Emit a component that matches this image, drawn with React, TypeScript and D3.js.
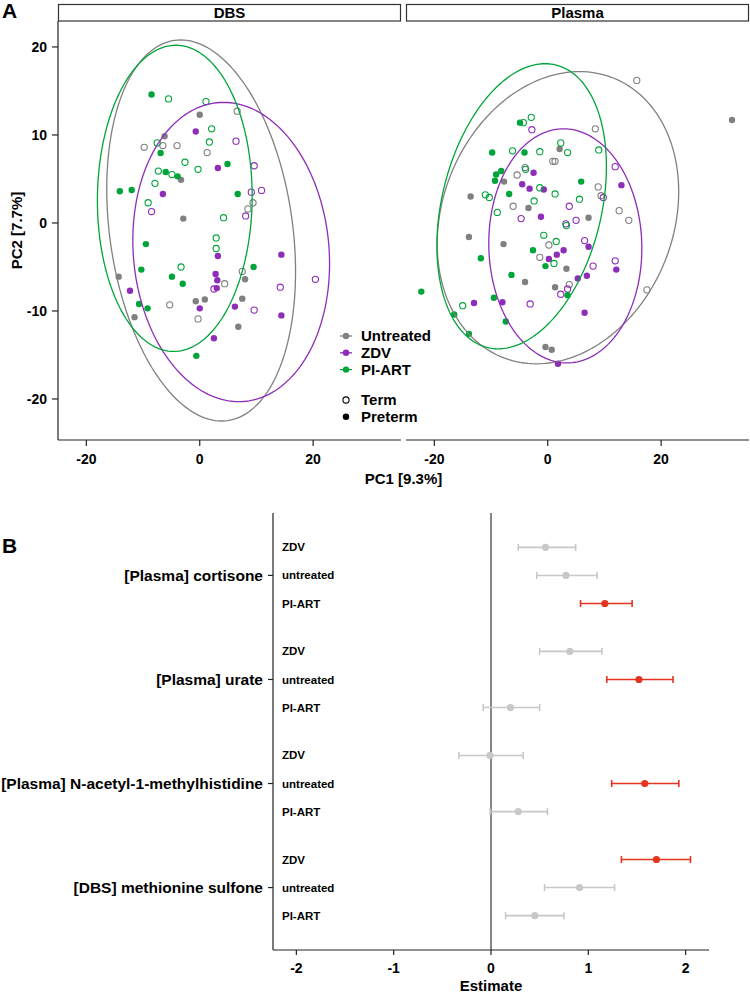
import React from "react";
import * as d3 from "d3";

// ---------- Panel A data (PC1, PC2) ----------
const groups = ["Untreated", "ZDV", "PI-ART"];
const groupColors = ["#808080", "#8e2db8", "#00a53a"];
const panels = ["DBS", "Plasma"];

const dbsUntreatedTerm = [[6.6,12.7],[-9.8,8.6],[-6.5,8.8],[-4.0,8.8],[1.3,8.0],[9.4,2.3],[8.5,1.6],[7.5,-5.5],[4.4,-6.9],[-5.3,-9.3],[-0.3,-10.9]];
const dbsUntreatedPreterm = [[0.0,12.3],[-6.2,9.85],[-3.3,4.9],[-2.9,0.5],[-14.3,-6.1],[8.0,-6.4],[-0.7,-8.9],[0.9,-8.7],[7.5,-8.6],[-11.5,-10.7],[6.8,-11.8]];
const dbsZdvTerm = [[6.4,9.3],[9.6,6.5],[10.9,3.7],[9.1,3.5],[-8.5,1.3],[8.1,0.8],[20.4,-6.4],[14.2,-7.3],[2.5,-7.5],[9.6,-9.9]];
const dbsZdvPreterm = [[-0.7,10.4],[3.2,6.25],[-6.5,3.3],[3.2,-3.75],[14.4,-3.6],[2.8,-5.8],[3.1,-6.5],[3.0,-7.4],[-12.3,-7.7],[0.0,-9.7],[6.2,-9.5],[14.4,-10.5],[2.5,-13.1]];
const dbsPiartTerm = [[-5.5,14.1],[1.1,13.8],[2.1,10.7],[1.7,9.2],[-7.5,9.1],[-2.6,6.9],[-0.3,6.1],[-7.3,5.9],[-4.9,5.5],[-7.9,4.5],[-9.1,2.3],[4.2,0.6],[2.9,-1.7],[2.9,-2.9],[-3.3,-5.0]];
const dbsPiartPreterm = [[-8.5,14.6],[-6.9,7.95],[-6.0,5.8],[-3.9,5.3],[-14.1,3.6],[-12.0,3.75],[4.9,6.7],[6.7,3.3],[-9.5,-2.4],[-10.3,-5.3],[-4.9,-6.1],[-3.0,-6.9],[9.5,-5.0],[-10.7,-9.2],[-9.2,-9.7],[-0.6,-15.1]];

const plasmaUntreatedTerm = [[15.7,16.2],[8.4,10.7],[1.3,7.0],[0.9,7.0],[-5.4,5.45],[-4.0,6.3],[8.9,4.1],[9.4,3.1],[-6.1,1.9],[12.6,1.4],[14.3,0.3],[0.2,-2.5],[-1.4,-3.9],[3.8,-7.0],[17.5,-7.6]];
const plasmaUntreatedPreterm = [[32.5,11.7],[2.1,8.4],[-7.7,4.7],[-13.6,3.0],[-3.4,1.7],[7.2,0.6],[-13.9,-1.6],[-7.8,-2.4],[3.3,-5.2],[-4.0,-6.7],[1.3,-7.3],[-0.4,-14.1],[0.7,-14.4]];
const plasmaZdvTerm = [[-2.8,10.6],[11.9,6.4],[9.8,2.9],[3.8,1.9],[-4.7,0.5],[5.0,0.3],[3.2,-0.1],[6.5,-2.0],[8.0,-4.9],[11.9,-4.3],[3.5,-7.5],[2.3,-8.1],[-3.1,-9.2]];
const plasmaZdvPreterm = [[-2.5,5.7],[-4.5,4.4],[-3.2,3.9],[-0.7,3.8],[13.0,4.3],[-1.2,0.7],[7.2,-2.7],[2.8,-3.1],[1.6,-3.6],[0.2,-4.1],[12.1,-5.3],[6.9,-6.0],[5.3,-6.3],[-13.0,-9.1],[-8.0,-9.0],[6.5,-10.2],[1.8,-16.0]];
const plasmaPiartTerm = [[-4.3,11.4],[-2.9,12.0],[2.3,9.1],[-6.2,8.2],[-1.4,8.1],[3.5,8.0],[9.0,8.3],[-3.9,6.1],[-1.4,4.0],[1.3,3.3],[-11.0,3.2],[-10.3,2.9],[5.6,2.7],[-2.4,2.5],[-8.9,1.2],[-0.7,-1.4],[1.5,-2.1],[1.1,-4.6],[3.3,-0.3],[-15.0,-9.4]];
const plasmaPiartPreterm = [[-4.9,11.4],[-9.8,8.0],[-4.1,8.0],[-8.2,5.9],[-9.1,5.5],[-9.3,4.8],[5.9,4.7],[-6.8,3.3],[-2.6,-3.1],[-11.8,-4.0],[-0.4,-4.9],[-6.4,-5.9],[-22.3,-7.8],[-9.5,-8.5],[3.5,-8.2],[-16.5,-10.4],[-13.9,-12.6],[-7.4,-11.2]];

// ellipse: centre, half-height, x-offset of top point, half-width (per group)
const dbsEllipses = [
  { cx: 0.25, cy: -0.85, h: 21.65, dx: -3.6, w: 16.65 },
  { cx: 5.55, cy: -3.3, h: 17.0, dx: -1.35, w: 17.35 },
  { cx: -4.4, cy: 2.8, h: 17.4, dx: 0.2, w: 13.65 },
];
const plasmaEllipses = [
  { cx: 1.8, cy: 0.6, h: 16.6, dx: 3.8, w: 21.3 },
  { cx: 3.1, cy: -2.6, h: 13.3, dx: -0.3, w: 13.5 },
  { cx: -4.6, cy: 1.9, h: 16.2, dx: 4.15, w: 14.95 },
];

const pcTicksX = [-20, 0, 20];
const pcTicksY = [-20, -10, 0, 10, 20];

// ---------- Panel B data ----------
const metabolites = ["[Plasma] cortisone", "[Plasma] urate", "[Plasma] N-acetyl-1-methylhistidine", "[DBS] methionine sulfone"];
const treatments = ["ZDV", "untreated", "PI-ART"];
const estimates = [[0.56, 0.77, 1.17], [0.81, 1.52, 0.20], [-0.01, 1.58, 0.28], [1.70, 0.91, 0.45]];
const lowers = [[0.28, 0.47, 0.92], [0.50, 1.19, -0.08], [-0.33, 1.24, -0.01], [1.34, 0.55, 0.15]];
const uppers = [[0.87, 1.09, 1.45], [1.14, 1.87, 0.50], [0.33, 1.93, 0.58], [2.05, 1.27, 0.75]];
const significant = [[0, 0, 1], [0, 1, 0], [0, 1, 0], [1, 0, 0]];
const estTicks = [-2, -1, 0, 1, 2];

const FONT = "'Liberation Sans', Arial, Helvetica, sans-serif";

function ellipsePoints(e: any) {
  const bx = Math.sqrt(Math.max(e.w * e.w - e.dx * e.dx, 0));
  return d3.range(0, 361, 2).map((t) => {
    const r = (t * Math.PI) / 180;
    return [e.cx + Math.cos(r) * e.dx + Math.sin(r) * bx, e.cy + Math.cos(r) * e.h];
  });
}

export default function App() {
  const panelRanges = [[58, 401], [406, 749]];
  const yA = d3.scaleLinear().domain([-24.66, 22.95]).range([440, 21]);
  const panelData = [
    [[dbsUntreatedTerm, dbsUntreatedPreterm], [dbsZdvTerm, dbsZdvPreterm], [dbsPiartTerm, dbsPiartPreterm]],
    [[plasmaUntreatedTerm, plasmaUntreatedPreterm], [plasmaZdvTerm, plasmaZdvPreterm], [plasmaPiartTerm, plasmaPiartPreterm]],
  ];
  const panelEllipses = [dbsEllipses, plasmaEllipses];

  const xB = d3.scaleLinear().domain([-2.24, 2.24]).range([273, 709]);
  const yB = d3.scaleLinear().domain([-0.6, 3.6]).range([513, 950]);
  const dodge = 0.27;

  return (
    <svg width={750} height={995} style={{ position: "absolute", left: 0, top: 0, background: "#fff" }} fontFamily={FONT}>
      <defs>
        {panelRanges.map((r, i) => (
          <clipPath id={`clipA${i}`} key={i}>
            <rect x={r[0]} y={21} width={r[1] - r[0]} height={419} />
          </clipPath>
        ))}
      </defs>
      <rect x={0} y={0} width={750} height={995} fill="#fff" />
      <text x={2} y={18} fontSize={21} fontWeight="bold">A</text>

      {panels.map((p, pi) => {
        const x = d3.scaleLinear().domain([-25, 35.5]).range(panelRanges[pi]);
        const line = d3.line().x((d: any) => x(d[0])).y((d: any) => yA(d[1])).curve(d3.curveLinearClosed);
        return (
          <g key={p}>
            <rect x={panelRanges[pi][0] + 0.5} y={4.5} width={panelRanges[pi][1] - panelRanges[pi][0] - 1} height={16.5} fill="#fff" stroke="#333" strokeWidth={1.2} />
            <text x={(panelRanges[pi][0] + panelRanges[pi][1]) / 2} y={18} textAnchor="middle" fontSize={15} fontWeight="bold">{p}</text>
            <g clipPath={`url(#clipA${pi})`}>
              {panelData[pi].map((gd, gi) =>
                gd.map((pts, term) =>
                  pts.map((d, k) =>
                    term === 0 ? (
                      <circle key={`${gi}-${term}-${k}`} cx={x(d[0])} cy={yA(d[1])} r={3.1} fill="none" stroke={groupColors[gi]} strokeWidth={1.1} />
                    ) : (
                      <circle key={`${gi}-${term}-${k}`} cx={x(d[0])} cy={yA(d[1])} r={3.2} fill={groupColors[gi]} />
                    )
                  )
                )
              )}
              {panelEllipses[pi].map((e, gi) => (
                <path key={gi} d={line(ellipsePoints(e) as any) || ""} fill="none" stroke={groupColors[gi]} strokeWidth={1.3} />
              ))}
            </g>
            <line x1={panelRanges[pi][0]} x2={panelRanges[pi][1]} y1={440} y2={440} stroke="#222" strokeWidth={1.2} />
            {pcTicksX.map((t) => (
              <g key={t}>
                <line x1={x(t)} x2={x(t)} y1={440} y2={446} stroke="#222" strokeWidth={1.2} />
                <text x={x(t)} y={464} textAnchor="middle" fontSize={14} fontWeight="bold">{t}</text>
              </g>
            ))}
          </g>
        );
      })}
      {/* left axis panel A */}
      <line x1={58} x2={58} y1={21} y2={440} stroke="#222" strokeWidth={1.2} />
      {pcTicksY.map((t) => (
        <g key={t}>
          <line x1={52} x2={58} y1={yA(t)} y2={yA(t)} stroke="#222" strokeWidth={1.2} />
          <text x={47} y={yA(t)} dy="0.35em" textAnchor="end" fontSize={14} fontWeight="bold">{t}</text>
        </g>
      ))}
      <text transform={`translate(22,${230.5}) rotate(-90)`} textAnchor="middle" fontSize={15} fontWeight="bold">PC2 [7.7%]</text>
      <text x={403.5} y={484} textAnchor="middle" fontSize={15} fontWeight="bold">PC1 [9.3%]</text>

      {/* legend */}
      {groups.map((g, i) => {
        const y = 336 + i * 16.8;
        return (
          <g key={g}>
            <line x1={340} x2={352} y1={y} y2={y} stroke={groupColors[i]} strokeWidth={1.3} />
            <circle cx={346} cy={y} r={3.2} fill={groupColors[i]} />
            <text x={361} y={y} dy="0.36em" fontSize={15} fontWeight="bold">{g}</text>
          </g>
        );
      })}
      {["Term", "Preterm"].map((g, i) => {
        const y = 400 + i * 16.8;
        return (
          <g key={g}>
            {i === 0 ? <circle cx={346} cy={y} r={3.1} fill="none" stroke="#000" strokeWidth={1.1} /> : <circle cx={346} cy={y} r={3.2} fill="#000" />}
            <text x={361} y={y} dy="0.36em" fontSize={15} fontWeight="bold">{g}</text>
          </g>
        );
      })}

      {/* Panel B */}
      <text x={2} y={553} fontSize={21} fontWeight="bold">B</text>
      <line x1={273} x2={273} y1={513} y2={950} stroke="#222" strokeWidth={1.2} />
      <line x1={273} x2={709} y1={950} y2={950} stroke="#222" strokeWidth={1.2} />
      <line x1={xB(0)} x2={xB(0)} y1={513} y2={950} stroke="#222" strokeWidth={1.1} />
      {estTicks.map((t) => (
        <g key={t}>
          <line x1={xB(t)} x2={xB(t)} y1={950} y2={955} stroke="#222" strokeWidth={1.2} />
          <text x={xB(t)} y={973} textAnchor="middle" fontSize={14} fontWeight="bold">{t}</text>
        </g>
      ))}
      <text x={xB(0)} y={991} textAnchor="middle" fontSize={15} fontWeight="bold">Estimate</text>
      {metabolites.map((m, i) => (
        <g key={m}>
          <line x1={268} x2={273} y1={yB(i)} y2={yB(i)} stroke="#222" strokeWidth={1.2} />
          <text x={263} y={yB(i)} dy="0.35em" textAnchor="end" fontSize={15.5} fontWeight="bold">{m}</text>
          {treatments.map((t, j) => {
            const yy = yB(i + (j - 1) * dodge);
            const col = significant[i][j] ? "#e5341f" : "#c8c8c8";
            return (
              <g key={t}>
                <text x={282} y={yy} dy="0.35em" fontSize={11.5} fontWeight="bold">{t}</text>
                <line x1={xB(lowers[i][j])} x2={xB(uppers[i][j])} y1={yy} y2={yy} stroke={col} strokeWidth={1.6} />
                <line x1={xB(lowers[i][j])} x2={xB(lowers[i][j])} y1={yy - 3.5} y2={yy + 3.5} stroke={col} strokeWidth={1.6} />
                <line x1={xB(uppers[i][j])} x2={xB(uppers[i][j])} y1={yy - 3.5} y2={yy + 3.5} stroke={col} strokeWidth={1.6} />
                <circle cx={xB(estimates[i][j])} cy={yy} r={3.6} fill={col} />
              </g>
            );
          })}
        </g>
      ))}
    </svg>
  );
}
